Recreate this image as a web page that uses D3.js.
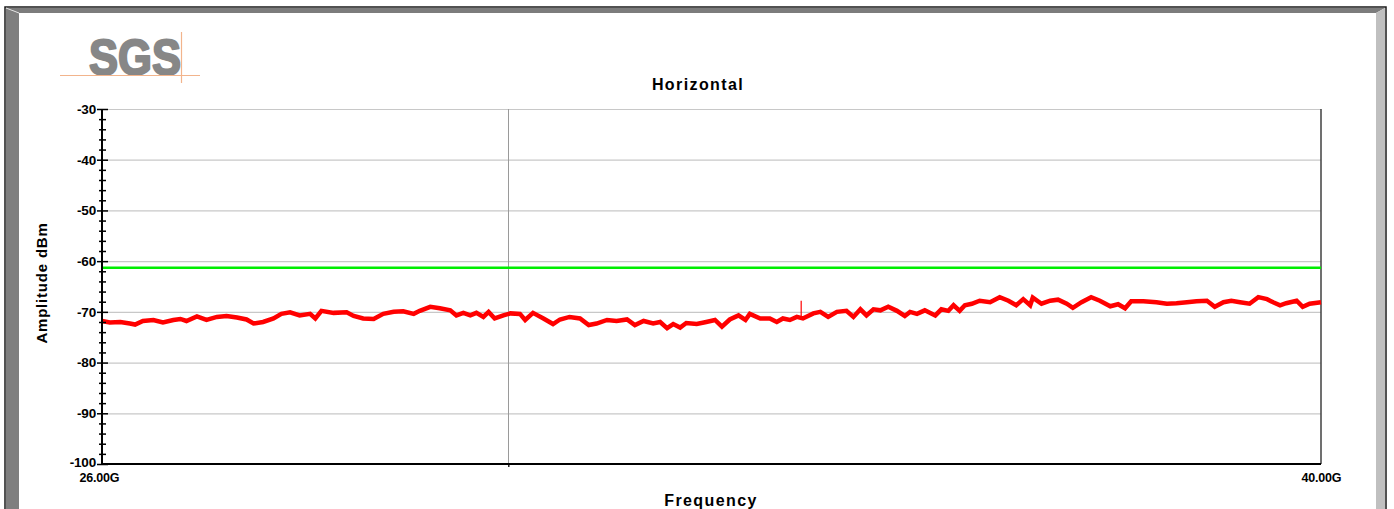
<!DOCTYPE html>
<html><head><meta charset="utf-8">
<script src="https://cdn.jsdelivr.net/npm/d3@7"></script>
<style>
html,body{margin:0;padding:0;background:#fff;}
svg{display:block;font-family:"Liberation Sans",Arial,sans-serif;}
</style></head>
<body><svg id="c" width="1394" height="509"></svg>
<script>
// ---- data ----
const chartTitle = "Horizontal";
const xLabel = "Frequency";
const yLabel = "Amplitude dBm";
const xDomain = [26, 40];           // GHz
const yDomain = [-100, -30];        // dBm
const yMajorTicks = [-100, -90, -80, -70, -60, -50, -40, -30];
const yTickLabels = ["-100", "-90", "-80", "-70", "-60", "-50", "-40", "-30"];
const xTickLabels = ["26.00G", "40.00G"];
const xTickValues = [26, 40];
const xMidGrid = [30.667];
const limitLine = -61.3;
const freqGHz = [26.00,26.09,26.21,26.32,26.38,26.47,26.59,26.70,26.82,26.90,26.97,27.09,27.20,27.32,27.43,27.55,27.66,27.74,27.85,27.97,
 28.06,28.16,28.27,28.39,28.45,28.52,28.66,28.81,28.89,29.00,29.12,29.23,29.35,29.46,29.58,29.65,29.77,29.88,30.00,30.07,
 30.15,30.23,30.30,30.38,30.44,30.51,30.61,30.69,30.80,30.86,30.95,31.07,31.18,31.26,31.37,31.49,31.59,31.68,31.80,31.91,
 32.03,32.12,32.22,32.33,32.41,32.49,32.56,32.64,32.71,32.83,32.94,33.04,33.12,33.21,33.31,33.39,33.44,33.56,33.67,33.75,
 33.82,33.90,33.98,34.05,34.17,34.25,34.34,34.44,34.55,34.63,34.71,34.78,34.86,34.94,35.03,35.13,35.22,35.28,35.36,35.45,
 35.57,35.64,35.72,35.78,35.85,35.91,35.99,36.08,36.20,36.31,36.41,36.50,36.58,36.66,36.69,36.79,36.89,36.98,37.08,37.15,
 37.25,37.36,37.46,37.58,37.67,37.75,37.82,37.96,38.11,38.23,38.34,38.46,38.57,38.69,38.78,38.88,38.97,39.07,39.18,39.28,
 39.38,39.45,39.53,39.60,39.72,39.79,39.87,40.00];
const amplitudeDbm = [-71.8,-72.1,-72.0,-72.3,-72.5,-71.8,-71.6,-72.1,-71.6,-71.4,-71.8,-70.9,-71.6,-71.0,-70.8,-71.1,-71.5,-72.3,-72.0,-71.3,
 -70.4,-70.1,-70.7,-70.4,-71.3,-69.8,-70.2,-70.1,-70.8,-71.3,-71.4,-70.4,-70.0,-69.9,-70.4,-69.8,-69.0,-69.3,-69.7,-70.7,
 -70.2,-70.7,-70.2,-71.0,-70.0,-71.3,-70.7,-70.3,-70.4,-71.6,-70.2,-71.3,-72.4,-71.5,-71.0,-71.3,-72.6,-72.3,-71.6,-71.8,
 -71.5,-72.6,-71.8,-72.3,-72.0,-73.2,-72.4,-73.1,-72.2,-72.4,-72.0,-71.6,-72.9,-71.5,-70.7,-71.6,-70.4,-71.3,-71.3,-72.0,
 -71.3,-71.6,-71.0,-71.3,-70.3,-70.0,-71.0,-70.0,-69.8,-71.0,-69.5,-70.7,-69.5,-69.7,-69.0,-69.8,-70.8,-70.0,-70.4,-69.7,
 -70.7,-69.5,-69.8,-68.7,-69.8,-68.7,-68.4,-67.8,-68.1,-67.1,-67.8,-68.7,-67.5,-68.7,-67.2,-68.4,-67.8,-67.6,-68.4,-69.2,
 -68.1,-67.1,-67.8,-68.9,-68.5,-69.3,-67.9,-67.9,-68.1,-68.4,-68.3,-68.1,-67.9,-67.8,-69.0,-68.1,-67.8,-68.1,-68.4,-67.1,
 -67.5,-68.1,-68.7,-68.3,-67.8,-69.0,-68.4,-68.1];
const spikeFreq = [34.03, 34.03];
const spikeAmp = [-71.0, -67.8];

// ---- layout ----
const svg = d3.select("#c");
const L = 102, R = 1321, T = 109, B = 464;
const x = d3.scaleLinear().domain(xDomain).range([L, R]);
const y = d3.scaleLinear().domain(yDomain).range([B, T]);

// frame decoration
svg.append("rect").attr("x",0).attr("y",0).attr("width",1394).attr("height",509).attr("fill","#fff");
svg.append("rect").attr("x",5).attr("y",7).attr("width",1381).attr("height",510).attr("fill","#fff").attr("stroke","#1a1a1a").attr("stroke-width",1.5);
svg.append("polygon").attr("points","6,8 1385,8 1376,13 19,13").attr("fill","#7c7c7c");
svg.append("polygon").attr("points","6,8 19,13 19,520 6,520").attr("fill","#7f7f7f");
svg.append("polygon").attr("points","1385,8 1385,520 1376,520 1376,13").attr("fill","#c0c0c0");
svg.append("line").attr("x1",6).attr("y1",8).attr("x2",19).attr("y2",13).attr("stroke","#e0e0e0").attr("stroke-width",1);

// logo
const logo = svg.append("g");
logo.append("text").attr("x",89).attr("y",75).attr("font-size",50).attr("font-weight","bold")
  .attr("fill","#878787").attr("stroke","#878787").attr("stroke-width",2.2).attr("stroke-linejoin","round")
  .attr("textLength",92).attr("lengthAdjust","spacingAndGlyphs").text("SGS");
logo.append("line").attr("x1",60).attr("x2",200).attr("y1",75.5).attr("y2",75.5).attr("stroke","#f2b48c").attr("stroke-width",1.2);
logo.append("line").attr("x1",181.5).attr("x2",181.5).attr("y1",32).attr("y2",83).attr("stroke","#f2b48c").attr("stroke-width",1.2);

// grid
svg.append("g").selectAll("line").data(yMajorTicks.filter(d=>d>-100)).join("line")
  .attr("x1",L).attr("x2",R).attr("y1",d=>y(d)+0.5).attr("y2",d=>y(d)+0.5)
  .attr("stroke","#c8c8c8").attr("stroke-width",1.2);
svg.append("g").selectAll("line").data(xMidGrid).join("line")
  .attr("x1",d=>Math.round(x(d))+0.5).attr("x2",d=>Math.round(x(d))+0.5).attr("y1",T).attr("y2",B+3)
  .attr("stroke","#9a9a9a").attr("stroke-width",1);

// right border
svg.append("line").attr("x1",R).attr("x2",R).attr("y1",T).attr("y2",B).attr("stroke","#404040").attr("stroke-width",1.5);

// limit line
svg.append("line").attr("x1",x(xDomain[0])).attr("x2",x(xDomain[1])).attr("y1",y(limitLine)).attr("y2",y(limitLine))
  .attr("stroke","#00ee00").attr("stroke-width",2.5);

// trace
const line = d3.line().x((d,i)=>x(freqGHz[i])).y(d=>y(d)).curve(d3.curveLinear);
svg.append("path").attr("d",line(amplitudeDbm)).attr("fill","none").attr("stroke","#ff0000")
  .attr("stroke-width",4.5).attr("stroke-linejoin","miter");
svg.append("path").attr("d",d3.line().x((d,i)=>x(spikeFreq[i])).y(d=>y(d))(spikeAmp))
  .attr("fill","none").attr("stroke","#ff0000").attr("stroke-width",1.2);

// y axis
const minor = d3.range(-100,-29,2).filter(v=>v%10!==0);
const yax = svg.append("g").attr("transform",`translate(${L},0)`);
yax.append("g").call(d3.axisLeft(y).tickValues(yMajorTicks).tickSize(5).tickPadding(1).tickFormat((d,i)=>yTickLabels[i]))
  .call(g=>{g.select(".domain").remove();
    g.selectAll("text").attr("font-size",13.5).attr("font-weight","bold").attr("fill","#000").attr("font-family","Liberation Sans, Arial").attr("letter-spacing",-0.2);
    g.selectAll("line").attr("stroke","#000").attr("stroke-width",1.5);});
yax.select("g").selectAll(".tick").filter(d=>d===-100).select("text").attr("dy","0.2em");
yax.append("g").call(d3.axisRight(y).tickValues(yMajorTicks).tickSize(6).tickFormat(""))
  .call(g=>{g.select(".domain").remove(); g.selectAll("line").attr("stroke","#000").attr("stroke-width",1.5);});
yax.append("g").call(d3.axisLeft(y).tickValues(minor).tickSize(3).tickFormat(""))
  .call(g=>{g.select(".domain").remove(); g.selectAll("line").attr("stroke","#000").attr("stroke-width",1.5);});
yax.append("g").call(d3.axisRight(y).tickValues(minor).tickSize(4).tickFormat(""))
  .call(g=>{g.select(".domain").remove(); g.selectAll("line").attr("stroke","#000").attr("stroke-width",1.5);});
yax.append("line").attr("x1",0).attr("x2",0).attr("y1",T).attr("y2",B).attr("stroke","#000").attr("stroke-width",2);

// x axis
const xax = svg.append("g").attr("transform",`translate(0,${B})`);
xax.append("g").call(d3.axisBottom(x).tickValues(xTickValues).tickSize(0).tickPadding(9).tickFormat((d,i)=>xTickLabels[i]))
  .call(g=>{g.select(".domain").remove();
    g.selectAll("text").attr("font-size",12.5).attr("font-weight","bold").attr("fill","#000").attr("font-family","Liberation Sans, Arial").attr("letter-spacing",-0.2);});
xax.select("g").selectAll(".tick").filter(d=>d===26).select("text").attr("dx",-3);
xax.append("line").attr("x1",L).attr("x2",R).attr("y1",0).attr("y2",0).attr("stroke","#000").attr("stroke-width",2);
xax.append("g").call(d3.axisBottom(x).tickValues(xMidGrid).tickSize(3).tickFormat(""))
  .call(g=>{g.select(".domain").remove(); g.selectAll("line").attr("stroke","#000").attr("stroke-width",1.2);});

// titles
svg.append("text").attr("x",698).attr("y",90).attr("text-anchor","middle").attr("font-size",16).attr("font-weight","bold")
  .attr("letter-spacing",1.4).text(chartTitle);
svg.append("text").attr("x",711).attr("y",506).attr("text-anchor","middle").attr("font-size",16).attr("font-weight","bold")
  .attr("letter-spacing",1.4).text(xLabel);
svg.append("text").attr("transform","translate(47,283) rotate(-90)").attr("text-anchor","middle").attr("font-size",15).attr("font-weight","bold")
  .attr("letter-spacing",0.8).text(yLabel);
</script></body></html>
